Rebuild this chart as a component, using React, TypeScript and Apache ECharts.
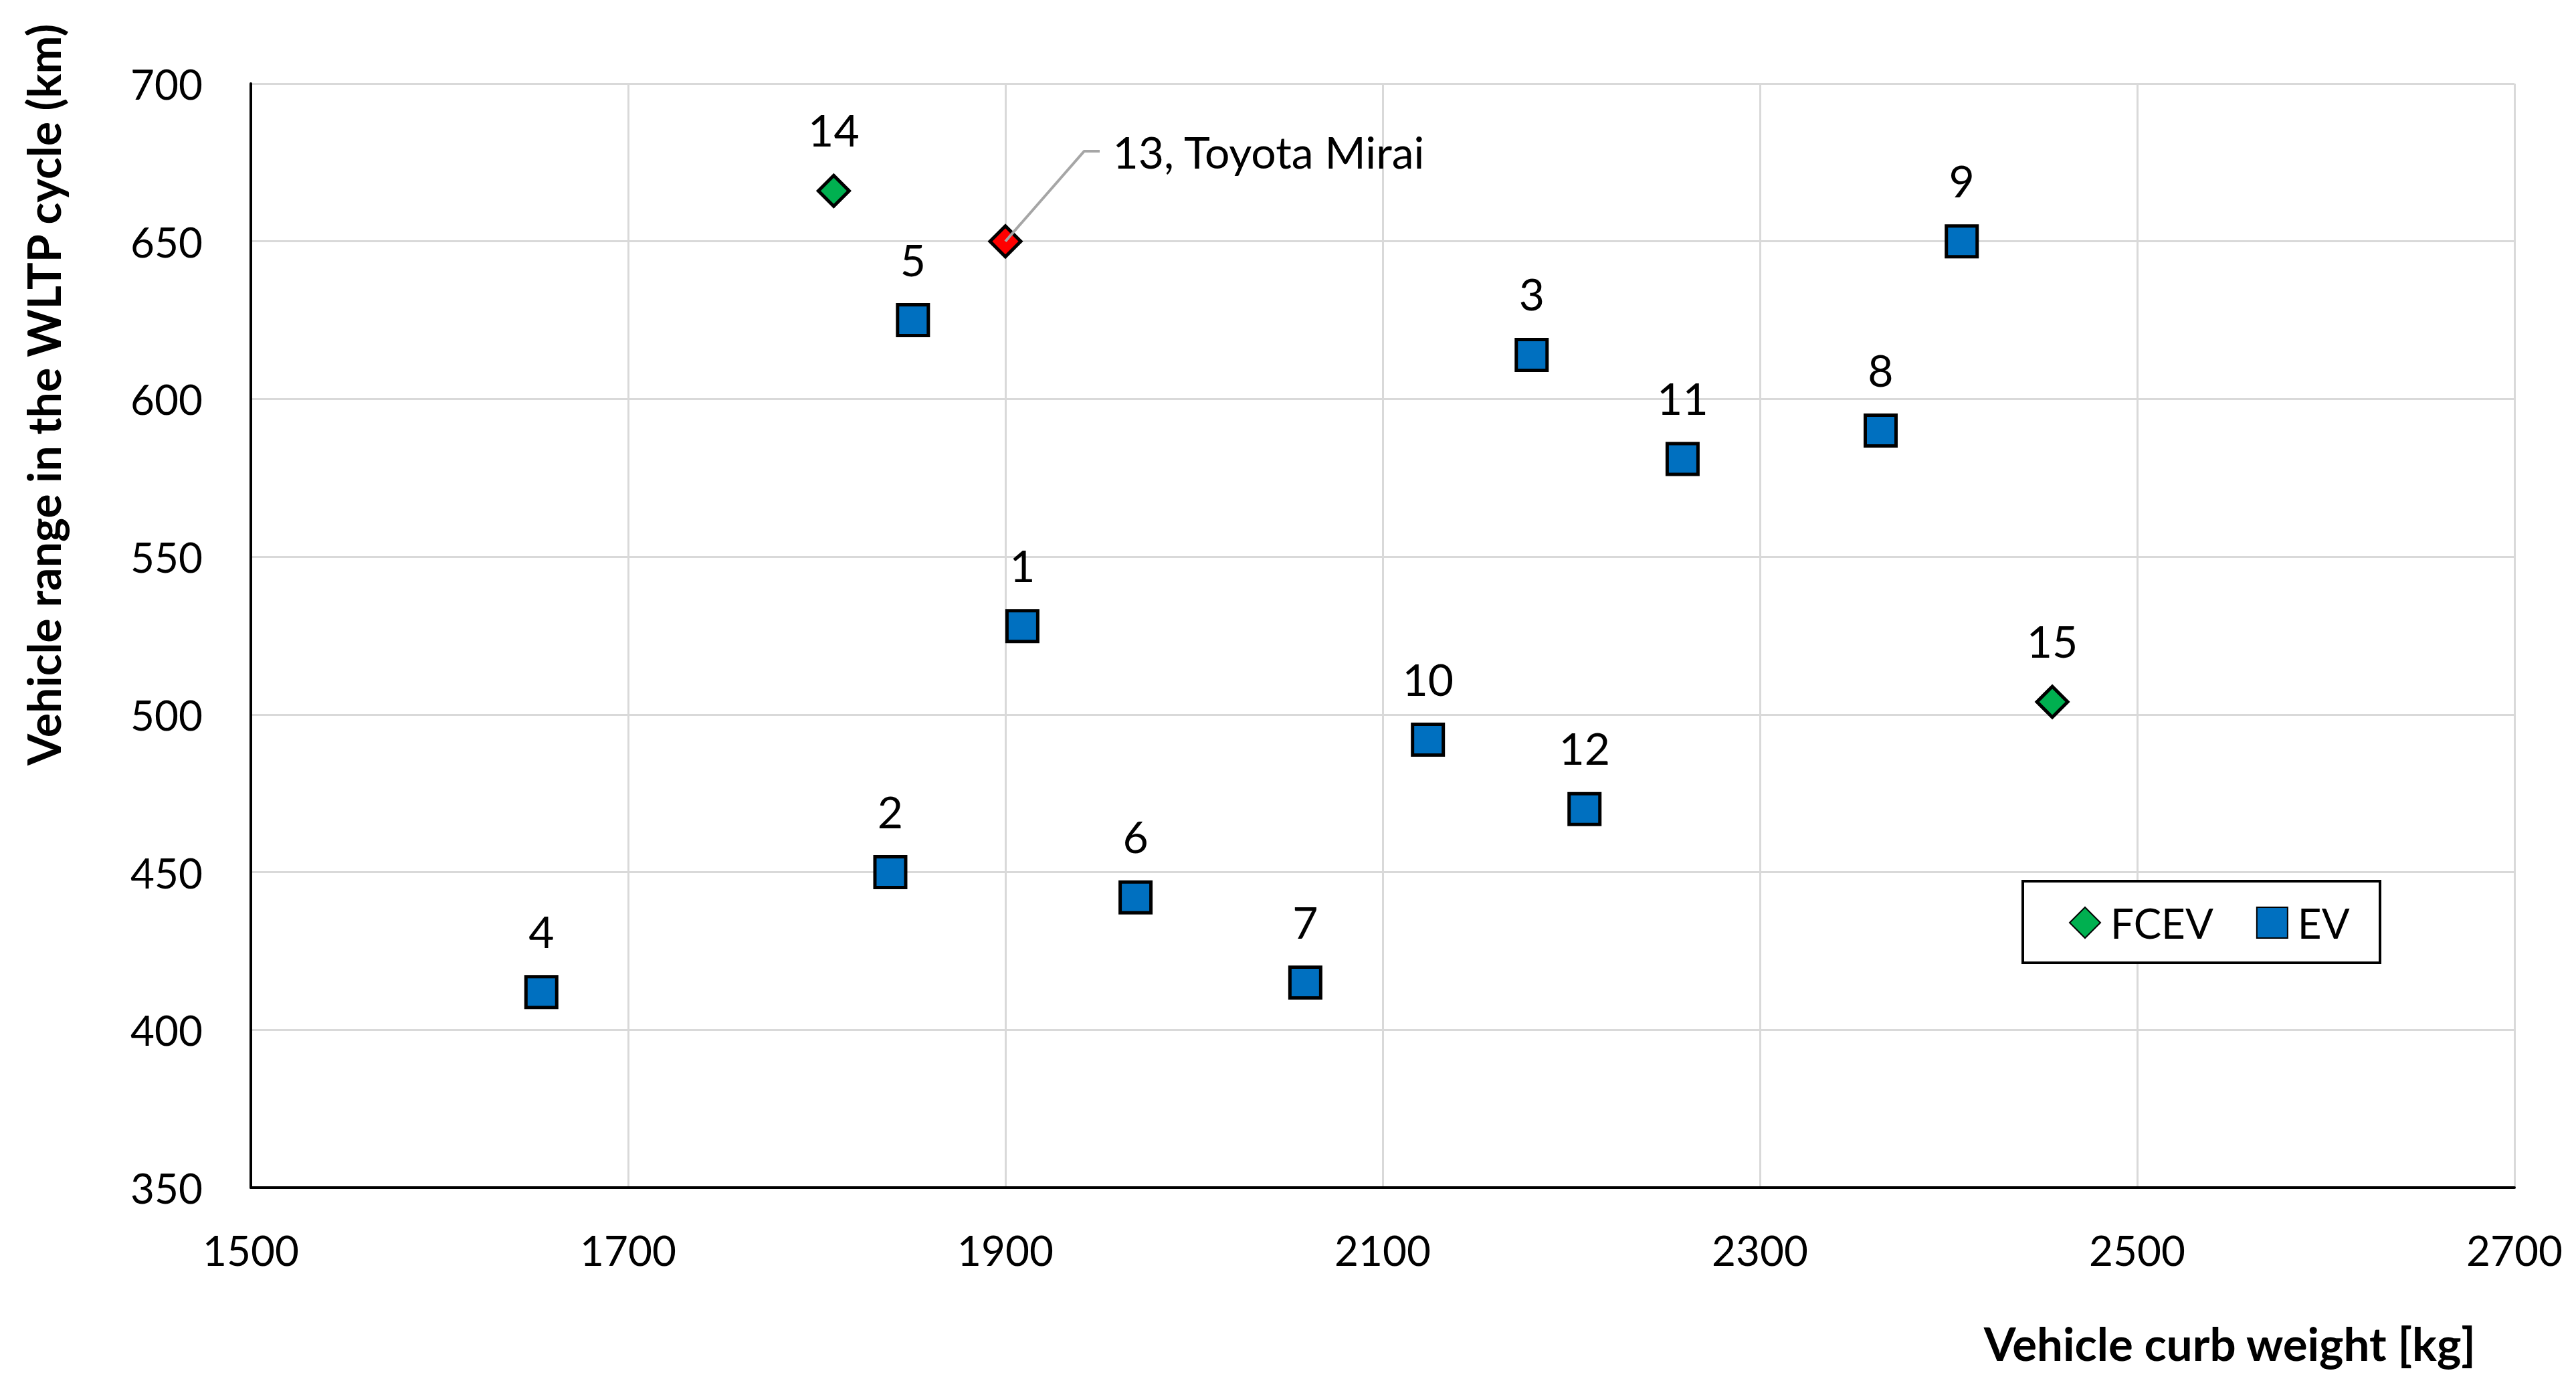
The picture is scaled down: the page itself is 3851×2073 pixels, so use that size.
import React, { useEffect, useRef } from "react";
import * as echarts from "echarts";

const evIds = ["1", "2", "3", "4", "5", "6", "7", "8", "9", "10", "11", "12"];
const evWeight = [1909, 1839, 2179, 1654, 1851, 1969, 2059, 2364, 2407, 2124, 2259, 2207];
const evRange = [528, 450, 614, 412, 625, 442, 415, 590, 650, 492, 581, 470];

const fcevIds = ["13, Toyota Mirai", "14", "15"];
const fcevWeight = [1900, 1809, 2455];
const fcevRange = [650, 666, 504];

const leaderX = [1900, 1941.8, 1950];
const leaderY = [650, 678.6, 678.6];

const xTicks = { min: 1500, max: 2700, interval: 200 };
const yTicks = { min: 350, max: 700, interval: 50 };

const FONT = "Lato, 'Noto Sans', sans-serif";

export default function App() {
  const ref = useRef<HTMLDivElement>(null);
  useEffect(() => {
    if (!ref.current) return;
    const chart = echarts.init(ref.current, null, { renderer: "svg" });
    const labelBase = {
      show: true,
      position: "top",
      distance: 33,
      color: "#000",
      fontFamily: FONT,
      fontSize: 66,
      formatter: "{b}",
    };
    const fcevData = fcevIds.map((id, i) => {
      const d: any = { name: id, value: [fcevWeight[i], fcevRange[i]] };
      if (i === 0) {
        d.itemStyle = { color: "#FF0000", borderColor: "#000", borderWidth: 5 };
        d.label = {
          position: [186, -109],
          align: "left",
          verticalAlign: "middle",
        };
      }
      return d;
    });
    const evData = evIds.map((id, i) => ({ name: id, value: [evWeight[i], evRange[i]] }));
    chart.setOption({
      animation: false,
      backgroundColor: "#fff",
      textStyle: { fontFamily: FONT },
      grid: { left: 375, top: 125, right: 92, bottom: 298, containLabel: false },
      xAxis: {
        type: "value",
        min: xTicks.min,
        max: xTicks.max,
        interval: xTicks.interval,
        axisLine: { show: true, onZero: false, lineStyle: { color: "#000", width: 4 } },
        axisTick: { show: false },
        axisLabel: {
          color: "#000",
          fontSize: 62,
          fontFamily: FONT,
          margin: 62,
          formatter: (v: number) => String(v),
        },
        splitLine: { show: true, lineStyle: { color: "#d9d9d9", width: 3 } },
      },
      yAxis: {
        type: "value",
        min: yTicks.min,
        max: yTicks.max,
        interval: yTicks.interval,
        axisLine: { show: true, onZero: false, lineStyle: { color: "#000", width: 4 } },
        axisTick: { show: false },
        axisLabel: {
          color: "#000",
          fontSize: 62,
          fontFamily: FONT,
          margin: 72,
          formatter: (v: number) => String(v),
        },
        splitLine: { show: true, lineStyle: { color: "#d9d9d9", width: 3 } },
      },
      legend: {
        data: ["FCEV", "EV"],
        left: 3093,
        top: 1348,
        padding: 0,
        itemWidth: 46,
        itemHeight: 46,
        itemGap: 64,
        z: 10,
        textStyle: { color: "#000", fontSize: 62, fontFamily: FONT, padding: [0, 0, 0, 10] },
      },
      graphic: [
        {
          type: "rect",
          z: 5,
          shape: { x: 3024, y: 1317, width: 534, height: 122 },
          style: { fill: "#fff", stroke: "#000", lineWidth: 4 },
        },
        {
          type: "text",
          x: 64,
          y: 590,
          rotation: Math.PI / 2,
          style: {
            text: "Vehicle range in the WLTP cycle (km)",
            fontFamily: FONT,
            fontWeight: "bold",
            fontSize: 68,
            fill: "#000",
            align: "center",
            verticalAlign: "middle",
          },
        },
        {
          type: "text",
          x: 3701,
          y: 2007,
          style: {
            text: "Vehicle curb weight [kg]",
            fontFamily: FONT,
            fontWeight: "bold",
            fontSize: 69,
            fill: "#000",
            align: "right",
            verticalAlign: "middle",
          },
        },
      ],
      series: [
        {
          name: "FCEV",
          type: "scatter",
          symbol: "diamond",
          symbolSize: 46,
          itemStyle: { color: "#00B050", borderColor: "#000", borderWidth: 5, opacity: 1 },
          label: labelBase,
          data: fcevData,
          z: 3,
        },
        {
          name: "EV",
          type: "scatter",
          symbol: "rect",
          symbolSize: 46,
          itemStyle: { color: "#0070C0", borderColor: "#000", borderWidth: 5, opacity: 1 },
          label: labelBase,
          data: evData,
          z: 3,
        },
        {
          name: "leader",
          type: "line",
          silent: true,
          symbol: "none",
          lineStyle: { color: "#a6a6a6", width: 4 },
          data: leaderX.map((x, i) => [x, leaderY[i]]),
          z: 4,
        },
      ],
    });
    return () => chart.dispose();
  }, []);
  return (
    <div
      ref={ref}
      style={{ position: "fixed", left: 0, top: 0, width: 3851, height: 2073 }}
    />
  );
}
